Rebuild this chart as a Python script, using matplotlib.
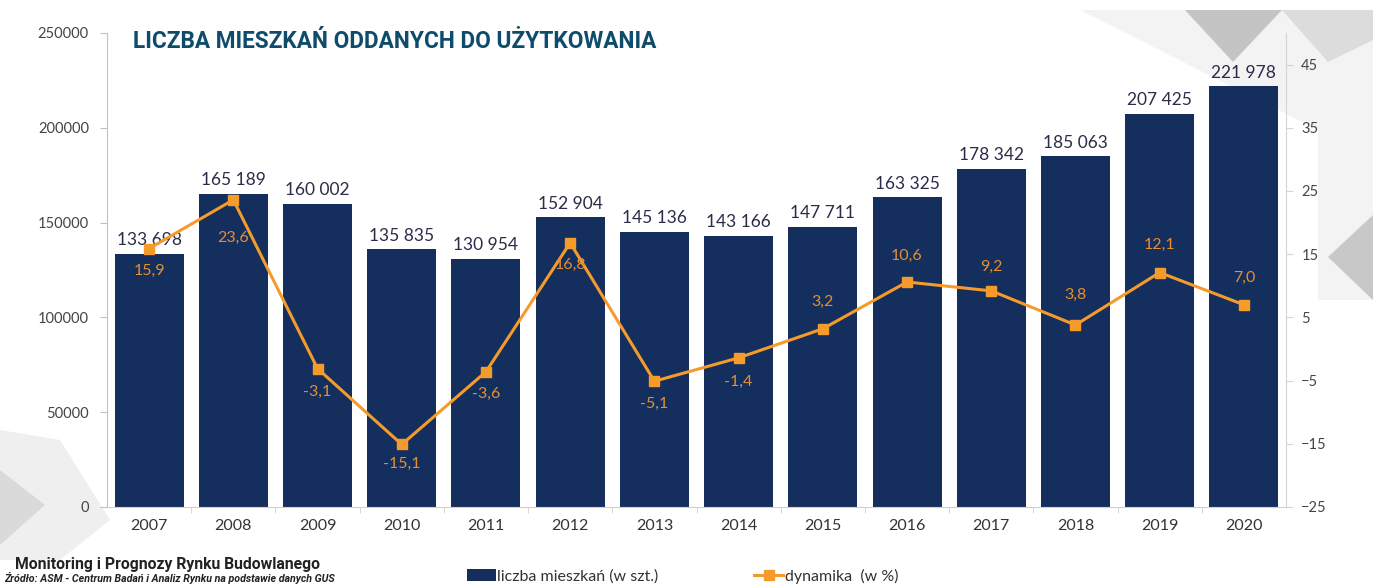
import matplotlib
matplotlib.use("Agg")
import matplotlib.pyplot as plt
from matplotlib.patches import Polygon, Patch
from matplotlib.lines import Line2D

years = ["2007", "2008", "2009", "2010", "2011", "2012", "2013",
         "2014", "2015", "2016", "2017", "2018", "2019", "2020"]
flats = [133698, 165189, 160002, 135835, 130954, 152904, 145136,
         143166, 147711, 163325, 178342, 185063, 207425, 221978]
dynamics = [15.9, 23.6, -3.1, -15.1, -3.6, 16.8, -5.1,
            -1.4, 3.2, 10.6, 9.2, 3.8, 12.1, 7.0]

NAVY = "#142f5e"
ORANGE = "#f49b2c"
ORANGE_TXT = "#e58f2f"
TITLE_C = "#0f4c6c"

plt.rcParams['font.family'] = ['Lato', 'DejaVu Sans']

W, H = 1379, 585
fig = plt.figure(figsize=(W / 100, H / 100), dpi=100)

def fx(x):
    return x / W

def fy(y):
    return 1 - y / H

# background decoration (grey diamonds), drawn behind everything
def diamond(pts, color):
    poly = Polygon([(fx(a), fy(b)) for a, b in pts], closed=True,
                   transform=fig.transFigure, facecolor=color,
                   edgecolor='none', zorder=-5)
    fig.patches.append(poly)

diamond([(1080, 10), (1373, 10), (1373, 300), (1318, 300), (1318, 130)], "#f3f3f3")
diamond([(1185, 10), (1282, 10), (1233, 62)], "#c4c4c4")
diamond([(1282, 10), (1373, 10), (1373, 40), (1328, 62)], "#dcdcdc")
diamond([(1373, 215), (1328, 257), (1373, 300)], "#c8c8c8")
diamond([(0, 430), (60, 440), (110, 520), (60, 560), (0, 560)], "#efefef")
diamond([(0, 470), (45, 505), (0, 545)], "#dadada")

ax = fig.add_axes([fx(107), fy(507), fx(1286) - fx(107), fy(33) - fy(507)])
ax.patch.set_alpha(0)
x = list(range(len(years)))
ax.bar(x, flats, width=0.82, color=NAVY, zorder=2)
ax.set_xlim(-0.5, len(years) - 0.5)
ax.set_ylim(0, 250000)
ax.set_yticks([0, 50000, 100000, 150000, 200000, 250000])
ax.set_xticks(x)
ax.set_xticklabels(years)
ax.tick_params(axis='x', length=0, labelsize=11.5, labelcolor="#333333", pad=9)
ax.tick_params(axis='y', length=5, color="#c9c0b6", labelsize=10.5,
               labelcolor="#444444", pad=8)
ax.set_xticks([i + 0.5 for i in x[:-1]], minor=True)
ax.tick_params(axis='x', which='minor', length=4, color="#d6cfc8")
for s in ['top', 'right']:
    ax.spines[s].set_visible(False)
ax.spines['left'].set_color("#c9c0b6")
ax.spines['bottom'].set_color("#d6cfc8")

for i, v in enumerate(flats):
    label = f"{v:,}".replace(",", " ")
    ax.annotate(label, (i, v), xytext=(0, 4), textcoords='offset points',
                ha='center', va='bottom', fontsize=12.5, color="#2a2c48")

ax2 = ax.twinx()
ax2.set_ylim(-25, 50)
ax2.set_yticks([-25, -15, -5, 5, 15, 25, 35, 45])
ax2.plot(x, dynamics, color=ORANGE, lw=2.2, marker='s', ms=7, zorder=3)
for s in ['top', 'left', 'bottom']:
    ax2.spines[s].set_visible(False)
ax2.spines['right'].set_color("#d4d4d4")
ax2.tick_params(axis='y', length=5, color="#d4d4d4", labelsize=10.5,
                labelcolor="#444444", pad=6)

# label offsets in pixels (positive = below marker)
offsets = [22, 38, 23, 19, 22, 22, 23, 24, -27, -26, -24, -30, -28, -27]
for i, (v, off) in enumerate(zip(dynamics, offsets)):
    ax2.annotate(f"{v:.1f}".replace(".", ","), (i, v), xytext=(0, -off * 0.72),
                 textcoords='offset points', ha='center', va='center',
                 fontsize=11.5, color=ORANGE_TXT)

fig.text(fx(133), fy(41), "LICZBA MIESZKAŃ ODDANYCH DO UŻYTKOWANIA",
         family='Roboto', weight='bold', fontsize=16.3, color=TITLE_C,
         va='center', ha='left')

fig.text(fx(15), fy(565), "Monitoring i Prognozy Rynku Budowlanego",
         family='Roboto', weight='bold', fontsize=11.3, color="#222222",
         va='center', ha='left')
fig.text(fx(4), fy(578), "Źródło: ASM - Centrum Badań i Analiz Rynku na podstawie danych GUS",
         family='Roboto', style='italic', weight='bold', fontsize=7.7,
         color="#222222", va='center', ha='left')

handles = [Patch(facecolor=NAVY, edgecolor='none'),
           Line2D([0], [0], color=ORANGE, lw=2.2, marker='s', ms=7)]
fig.legend(handles, ["liczba mieszkań (w szt.)", "dynamika  (w %)"],
           loc='center left', bbox_to_anchor=(fx(467), fy(576)), ncol=2,
           frameon=False, fontsize=11.5, handlelength=1.8, handleheight=0.7,
           handletextpad=0.1, columnspacing=6.0, labelcolor="#333333",
           borderpad=0, borderaxespad=0)

fig.savefig("out.png", dpi=100)
